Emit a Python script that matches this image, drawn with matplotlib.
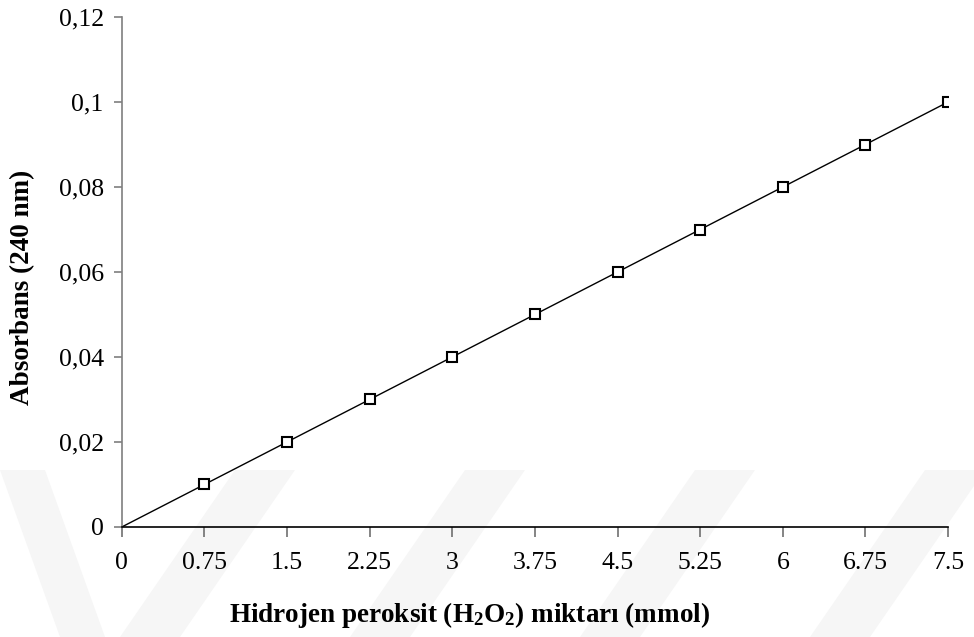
import matplotlib
matplotlib.use("Agg")
import matplotlib.pyplot as plt
from matplotlib.patches import Polygon
from matplotlib.ticker import FixedLocator

plt.rcParams['font.family'] = ['Liberation Serif', 'DejaVu Serif']
plt.rcParams['mathtext.fontset'] = 'custom'
plt.rcParams['mathtext.rm'] = 'Liberation Serif:bold'
plt.rcParams['mathtext.bf'] = 'Liberation Serif:bold'

# Calibration data: H2O2 amount (mmol) vs absorbance at 240 nm
h2o2_mmol = [0.75, 1.5, 2.25, 3, 3.75, 4.5, 5.25, 6, 6.75, 7.5]
absorbance = [0.01, 0.02, 0.03, 0.04, 0.05, 0.06, 0.07, 0.08, 0.09, 0.10]
x_ticks = [0, 0.75, 1.5, 2.25, 3, 3.75, 4.5, 5.25, 6, 6.75, 7.5]
x_tick_labels = ['0', '0.75', '1.5', '2.25', '3', '3.75', '4.5', '5.25', '6', '6.75', '7.5']
y_ticks = [0, 0.02, 0.04, 0.06, 0.08, 0.10, 0.12]
y_tick_labels = ['0', '0,02', '0,04', '0,06', '0,08', '0,1', '0,12']

fig = plt.figure(figsize=(9.74, 6.37), dpi=100)

# faint diagonal background bands
band_color = '#f6f6f6'
W, H = 974.0, 637.0
def band(pts):
    poly = Polygon([(x / W, 1 - y / H) for x, y in pts], closed=True,
                   transform=fig.transFigure, facecolor=band_color,
                   edgecolor='none', zorder=0)
    fig.patches.append(poly)
band([(0, 470), (45, 470), (105, 637), (60, 637)])
for x0 in [120, 350, 580, 810]:
    band([(x0, 637), (x0 + 60, 637), (x0 + 175, 470), (x0 + 115, 470)])

ax = fig.add_axes([0.125, 0.1727, 0.8484, 0.8006])
ax.set_zorder(2)
ax.patch.set_alpha(0)

ax.plot([0] + h2o2_mmol, [0] + absorbance, color='black', lw=1.0, zorder=2)
ax.plot(h2o2_mmol, absorbance, linestyle='none', marker='s', markersize=7,
        markerfacecolor='white', markeredgecolor='black', markeredgewidth=1.5, zorder=3)

ax.set_xlim(0, 7.5)
ax.set_ylim(0, 0.12)
ax.xaxis.set_major_locator(FixedLocator(x_ticks))
ax.set_xticklabels(x_tick_labels)
ax.yaxis.set_major_locator(FixedLocator(y_ticks))
ax.set_yticklabels(y_tick_labels)

for s in ['top', 'right']:
    ax.spines[s].set_visible(False)
ax.spines['left'].set_color('#7f7f7f')
ax.spines['bottom'].set_color('black')
ax.spines['left'].set_linewidth(1.2)
ax.spines['bottom'].set_linewidth(1.2)

ax.tick_params(axis='y', direction='out', length=6, width=1.2, color='#7f7f7f',
               labelsize=18.5, pad=7)
ax.tick_params(axis='x', direction='out', length=7, width=1.2, color='#6f6f6f',
               labelsize=18.5, pad=11)

ax.set_xlabel(r'Hidrojen peroksit ($\mathrm{H_2O_2}$) miktarı (mmol)',
              fontsize=19.5, fontweight='bold')
ax.set_ylabel('Absorbans (240 nm)', fontsize=19.5, fontweight='bold')
ax.xaxis.set_label_coords(0.421, -0.172)
ax.xaxis.label.set_va('center')
ax.yaxis.set_label_coords(-0.12, 0.47)
ax.yaxis.label.set_va('center')

fig.savefig('out.png', dpi=100)
